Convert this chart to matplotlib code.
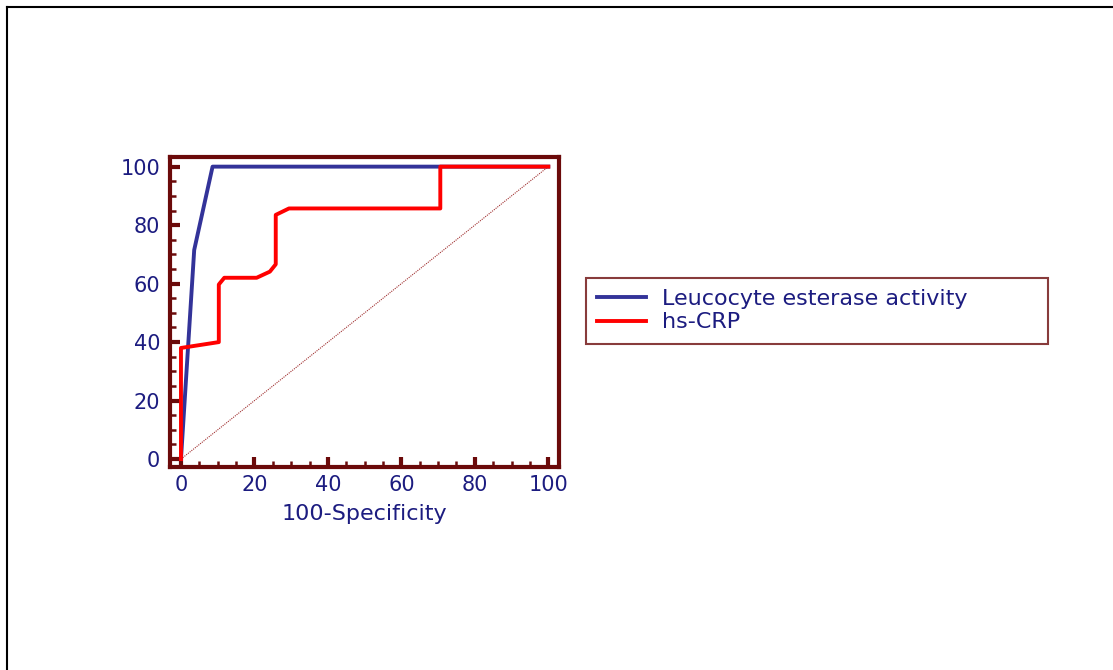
import matplotlib
matplotlib.use("Agg")
import matplotlib.pyplot as plt
from matplotlib.lines import Line2D
from matplotlib.ticker import MultipleLocator

# ROC curves (100-specificity, sensitivity)
le_x = [0, 3.6, 8.6, 70.5, 100]
le_y = [0, 71.5, 100, 100, 100]

crp_x = [0, 0, 10.3, 10.3, 11.8, 20.6, 24.2, 25.8, 25.8, 29.4, 70.6, 70.6, 100]
crp_y = [0, 38.0, 40.0, 59.7, 62.0, 62.0, 64.1, 66.6, 83.5, 85.7, 85.7, 100, 100]

diag = [0, 100]

labels = ["Leucocyte esterase activity", "hs-CRP"]
ticks = [0, 20, 40, 60, 80, 100]

navy = "#1c1c80"
maroon = "#6b0a0a"

plt.rcParams['font.family'] = ['DejaVu Sans']

fig = plt.figure(figsize=(11.13, 6.70), dpi=100)
ax = fig.add_axes([0.1527, 0.3030, 0.3495, 0.4627])

ax.plot(diag, diag, color="#a03030", lw=0.8, ls=(0, (1, 1)))
ax.plot(le_x, le_y, color="#333399", lw=2.8, label=labels[0])
ax.plot(crp_x, crp_y, color="#ff0000", lw=2.8, label=labels[1])

ax.set_xlim(-3.0, 102.9)
ax.set_ylim(-2.7, 103.3)
ax.set_xticks(ticks)
ax.set_yticks(ticks)
ax.xaxis.set_minor_locator(MultipleLocator(5))
ax.yaxis.set_minor_locator(MultipleLocator(5))
ax.tick_params(which="major", direction="in", length=7, width=3, color=maroon,
               labelcolor=navy, labelsize=15)
ax.tick_params(which="minor", direction="in", length=4, width=1.8, color=maroon)
ax.tick_params(axis="y", pad=7)
ax.tick_params(axis="x", pad=6)
for s in ax.spines.values():
    s.set_color(maroon)
    s.set_linewidth(3)

ax.set_xlabel("100-Specificity", color=navy, fontsize=16, labelpad=6)

leg = fig.legend(loc="upper left", bbox_to_anchor=(0.5265, 0.482, 0.415, 0.103),
                 mode="expand", fontsize=16, frameon=True, fancybox=False,
                 handlelength=2.2, handletextpad=0.7, borderpad=0.5,
                 labelspacing=0.15, borderaxespad=0)
leg.get_frame().set_edgecolor(maroon)
leg.get_frame().set_linewidth(1.5)
for t in leg.get_texts():
    t.set_color(navy)

# outer frame, open to the right and bottom
fx = 7 / 1113
fy = 1 - 7 / 670
fig.add_artist(Line2D([fx, fx], [0, fy], color="black", lw=1.5, transform=fig.transFigure))
fig.add_artist(Line2D([fx, 1], [fy, fy], color="black", lw=1.5, transform=fig.transFigure))

fig.savefig("out.png", dpi=100)
